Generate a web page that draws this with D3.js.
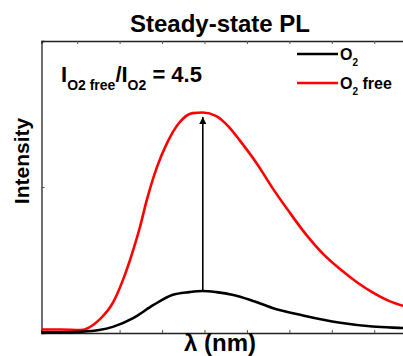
<!DOCTYPE html>
<html>
<head>
<meta charset="utf-8">
<script src="https://cdn.jsdelivr.net/npm/d3@7"></script>
<style>
body{margin:0;background:#fff}
text{font-family:"Liberation Sans",Arial,sans-serif;font-weight:bold}
</style>
</head>
<body>
<svg id="main_svg" width="403" height="356"></svg>
<script>
// wavelength (nm) / intensity (a.u.)
const wl_free = [429,440,452,463,471,477,483,487,491,497,503,510,518,524,532,540,546,556,565,575,585,595,605,615,624,634,642,649]
const pl_free = [1.2,1.2,1.0,4.5,10.3,18.2,28.4,36.3,45.5,56.8,65.1,71.9,75.3,75.5,74.3,70.2,65.8,57.9,49.7,41.4,33.6,27.0,21.8,17.3,13.9,10.9,9.3,8.2]
const wl_o2 = [429,440,452,463,471,483,495,506,516,524,532,542,552,565,583,605,624,642,649]
const pl_o2 = [0.2,0.2,0.4,1.0,2.1,5.1,9.6,13.0,14.0,14.4,14.0,13.0,11.3,8.6,6.0,3.5,2.2,1.7,1.5]
const x_ticks = [450,475,500,525,550,575,600,625,650]
const peak_wl = 524
const arrow_from = 14.4
const arrow_to = 74

const svg = d3.select("#main_svg")
const m_left=41.5, m_top=41, m_bottom=333, m_right=415

const x = d3.scaleLinear().domain([429,649]).range([m_left,m_right])
const y = d3.scaleLinear().domain([0,100]).range([m_bottom,m_top])

svg.append("defs").append("marker")
    .attr("id","head")
    .attr("viewBox","0 0 10 10")
    .attr("refX",10).attr("refY",5)
    .attr("markerWidth",4.5).attr("markerHeight",6.5)
    .attr("markerUnits","strokeWidth")
    .attr("orient","auto")
    .append("path").attr("d","M0,0 L10,5 L0,10 z").attr("fill","#000")

// frame
svg.append("g").attr("transform","translate(0,"+m_top+")")
    .call(d3.axisTop(x).tickValues(x_ticks).tickSize(-3).tickFormat(""))
svg.append("g").attr("transform","translate(0,"+m_bottom+")")
    .call(d3.axisBottom(x).tickValues(x_ticks).tickSize(-3).tickFormat(""))
svg.append("g").attr("transform","translate("+m_left+",0)")
    .call(d3.axisLeft(y).tickValues([50]).tickSize(-3).tickFormat(""))
svg.selectAll(".domain").attr("stroke","#222").attr("stroke-width",1.3)
svg.selectAll(".tick line").attr("stroke","#555")

const line = d3.line().x(d=>x(d[0])).y(d=>y(d[1])).curve(d3.curveMonotoneX)

svg.append("path")
    .datum(d3.zip(wl_free,pl_free))
    .attr("d",line).attr("fill","none")
    .attr("stroke","#ff0000").attr("stroke-width",2.6)
svg.append("path")
    .datum(d3.zip(wl_o2,pl_o2))
    .attr("d",line).attr("fill","none")
    .attr("stroke","#000").attr("stroke-width",2.6)

svg.append("line")
    .attr("x1",x(peak_wl)).attr("x2",x(peak_wl))
    .attr("y1",y(arrow_from)).attr("y2",y(arrow_to))
    .attr("stroke","#000").attr("stroke-width",1.6)
    .attr("marker-end","url(#head)")

// texts
svg.append("text").attr("x",220).attr("y",32)
    .attr("text-anchor","middle").attr("font-size",24).text("Steady-state PL")
svg.append("text").attr("x",220).attr("y",351)
    .attr("text-anchor","middle").attr("font-size",24).text("λ (nm)")
svg.append("text").attr("transform","translate(29,161) rotate(-90)")
    .attr("text-anchor","middle").attr("font-size",21).text("Intensity")

const ann = svg.append("text").attr("x",61).attr("y",82).attr("font-size",22)
ann.append("tspan").text("I")
ann.append("tspan").attr("font-size",14).attr("dy",8).text("O2 free")
ann.append("tspan").attr("dy",-8).text("/I")
ann.append("tspan").attr("font-size",14).attr("dy",8).text("O2")
ann.append("tspan").attr("dy",-8).text(" = 4.5")

// legend
const legend = [{name:"O",sub:"2",rest:"",color:"#000",y:54},
                {name:"O",sub:"2",rest:" free",color:"#ff0000",y:83}]
legend.forEach(d=>{
    svg.append("line").attr("x1",297).attr("x2",338)
        .attr("y1",d.y).attr("y2",d.y)
        .attr("stroke",d.color).attr("stroke-width",2.6)
    const t = svg.append("text").attr("x",340).attr("y",d.y+6).attr("font-size",16)
    t.append("tspan").text(d.name)
    t.append("tspan").attr("font-size",10).attr("dy",6).text(d.sub)
    t.append("tspan").attr("dy",-6).text(d.rest)
})
</script>
</body>
</html>
